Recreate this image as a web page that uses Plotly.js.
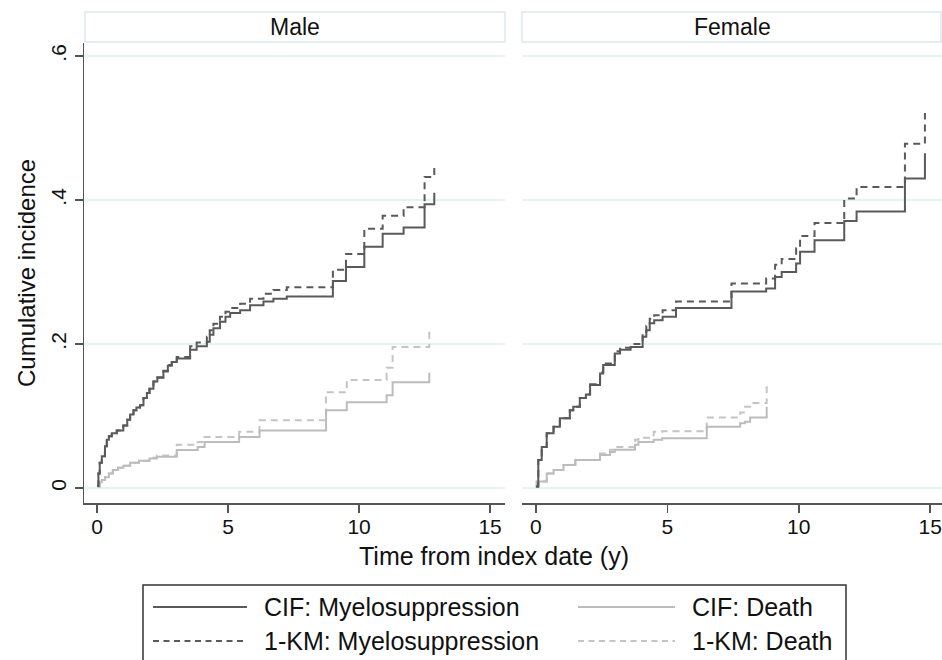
<!DOCTYPE html>
<html>
<head>
<meta charset="utf-8">
<script src="https://cdn.plot.ly/plotly-3.0.1.min.js"></script>
<style>html,body{margin:0;padding:0;background:#fff;}#chart{width:942px;height:660px;}</style>
</head>
<body>
<div id="chart"></div>
<script>
// ---------- DATA ----------
var panels = ["Male", "Female"];
var seriesNames = ["CIF: Myelosuppression", "1-KM: Myelosuppression", "CIF: Death", "1-KM: Death"];
var yTickVals = [0, 0.2, 0.4, 0.6];
var yTickText = ["0", ".2", ".4", ".6"];
var xTickVals = [0, 5, 10, 15];

// Male, CIF myelosuppression
var maleCifMyeloT = [0, 0.05, 0.1, 0.18, 0.3, 0.37, 0.45, 0.56, 0.75, 1.0, 1.15, 1.26, 1.39, 1.5, 1.64, 1.77, 1.9, 2.0, 2.15, 2.3, 2.53, 2.7, 2.85, 3.04, 3.55, 3.8, 4.19, 4.3, 4.44, 4.69, 4.9, 5.08, 5.46, 5.84, 6.35, 6.73, 7.24, 9.0, 9.5, 10.2, 10.9, 11.7, 12.5, 12.87];
var maleCifMyeloY = [0.003, 0.02, 0.035, 0.044, 0.058, 0.067, 0.072, 0.076, 0.08, 0.087, 0.095, 0.102, 0.108, 0.112, 0.115, 0.125, 0.132, 0.138, 0.148, 0.153, 0.162, 0.17, 0.175, 0.18, 0.192, 0.197, 0.203, 0.213, 0.222, 0.231, 0.238, 0.243, 0.247, 0.254, 0.259, 0.263, 0.266, 0.2875, 0.307, 0.335, 0.353, 0.362, 0.394, 0.41];
// Male, 1-KM myelosuppression
var maleKmMyeloT = [0, 0.05, 0.1, 0.18, 0.3, 0.37, 0.45, 0.56, 0.75, 1.0, 1.15, 1.26, 1.39, 1.5, 1.64, 1.77, 1.9, 2.0, 2.15, 2.3, 2.53, 2.7, 2.85, 3.04, 3.55, 3.8, 4.19, 4.3, 4.44, 4.69, 4.9, 5.08, 5.46, 5.84, 6.35, 6.73, 7.24, 9.0, 9.5, 10.2, 10.9, 11.7, 12.5, 12.87];
var maleKmMyeloY = [0.003, 0.02, 0.035, 0.044, 0.058, 0.067, 0.072, 0.076, 0.08, 0.087, 0.095, 0.102, 0.108, 0.112, 0.115, 0.125, 0.132, 0.138, 0.148, 0.154, 0.163, 0.171, 0.177, 0.182, 0.197, 0.202, 0.21, 0.219, 0.228, 0.238, 0.245, 0.25, 0.256, 0.263, 0.27, 0.275, 0.279, 0.303, 0.325, 0.36, 0.378, 0.39, 0.432, 0.451];
// Male, CIF death
var maleCifDeathT = [0, 0.1, 0.18, 0.3, 0.45, 0.6, 0.8, 1.0, 1.26, 1.6, 2.0, 2.28, 3.04, 3.84, 4.1, 5.42, 6.2, 8.74, 9.53, 11.05, 11.28, 12.68];
var maleCifDeathY = [0.002, 0.008, 0.011, 0.015, 0.02, 0.025, 0.028, 0.031, 0.035, 0.038, 0.041, 0.0435, 0.0528, 0.057, 0.064, 0.071, 0.08, 0.108, 0.119, 0.129, 0.147, 0.16];
// Male, 1-KM death
var maleKmDeathT = [0, 0.1, 0.18, 0.3, 0.45, 0.6, 0.8, 1.0, 1.26, 1.6, 2.0, 2.28, 3.04, 3.84, 4.1, 5.42, 6.2, 8.74, 9.53, 11.05, 11.28, 12.68];
var maleKmDeathY = [0.002, 0.008, 0.011, 0.015, 0.02, 0.025, 0.028, 0.031, 0.035, 0.038, 0.042, 0.045, 0.06, 0.064, 0.071, 0.078, 0.094, 0.133, 0.15, 0.167, 0.196, 0.217];

// Female, CIF myelosuppression
var femCifMyeloT = [0, 0.09, 0.22, 0.41, 0.67, 0.91, 1.29, 1.42, 1.67, 1.9, 2.06, 2.44, 2.56, 3.0, 3.2, 3.6, 4.06, 4.2, 4.33, 4.5, 4.82, 5.33, 7.44, 8.76, 9.1, 9.35, 9.9, 10.05, 10.6, 11.73, 12.2, 14.04, 14.8];
var femCifMyeloY = [0.002, 0.039, 0.057, 0.076, 0.085, 0.097, 0.108, 0.113, 0.125, 0.13, 0.143, 0.159, 0.171, 0.187, 0.192, 0.196, 0.21, 0.219, 0.229, 0.233, 0.238, 0.25, 0.273, 0.277, 0.293, 0.3, 0.312, 0.328, 0.344, 0.371, 0.384, 0.43, 0.465];
// Female, 1-KM myelosuppression
var femKmMyeloT = [0, 0.09, 0.22, 0.41, 0.67, 0.91, 1.29, 1.42, 1.67, 1.9, 2.06, 2.44, 2.56, 3.0, 3.2, 3.6, 4.06, 4.2, 4.33, 4.5, 4.82, 5.33, 7.44, 8.76, 9.1, 9.35, 9.9, 10.05, 10.6, 11.73, 12.2, 14.04, 14.8];
var femKmMyeloY = [0.002, 0.039, 0.057, 0.076, 0.085, 0.097, 0.108, 0.113, 0.125, 0.13, 0.144, 0.161, 0.173, 0.19, 0.195, 0.2, 0.215, 0.225, 0.235, 0.24, 0.247, 0.259, 0.284, 0.291, 0.31, 0.318, 0.333, 0.35, 0.368, 0.402, 0.418, 0.478, 0.521];
// Female, CIF death
var femCifDeathT = [0, 0.03, 0.41, 0.67, 1.05, 1.5, 2.44, 2.82, 3.0, 3.77, 3.9, 4.48, 4.8, 6.5, 7.77, 7.96, 8.15, 8.78];
var femCifDeathY = [0.002, 0.009, 0.02, 0.025, 0.032, 0.039, 0.046, 0.05, 0.053, 0.06, 0.064, 0.067, 0.069, 0.085, 0.09, 0.092, 0.098, 0.113];
// Female, 1-KM death
var femKmDeathT = [0, 0.03, 0.41, 0.67, 1.05, 1.5, 2.44, 2.82, 3.0, 3.77, 3.9, 4.48, 4.8, 6.5, 7.77, 7.96, 8.15, 8.78];
var femKmDeathY = [0.002, 0.009, 0.02, 0.025, 0.032, 0.039, 0.048, 0.053, 0.057, 0.067, 0.07, 0.078, 0.079, 0.098, 0.105, 0.113, 0.118, 0.142];

// ---------- STYLE ----------
var FONT = "Liberation Sans, Arial, sans-serif";
var TICKFONT = "Liberation Sans Narrow, Arial Narrow, Liberation Sans, sans-serif";
var W = 942, H = 660;
function px(x) { return x / W; }
function py(y) { return 1 - y / H; }

var styles = [
  {color: "#5a5a5a", width: 2, dash: "solid"},
  {color: "#5a5a5a", width: 2, dash: "7px,5px"},
  {color: "#bcbcbc", width: 2, dash: "solid"},
  {color: "#c4c4c4", width: 2, dash: "7px,5px"}
];

var panelData = [
  [[maleCifMyeloT, maleCifMyeloY], [maleKmMyeloT, maleKmMyeloY], [maleCifDeathT, maleCifDeathY], [maleKmDeathT, maleKmDeathY]],
  [[femCifMyeloT, femCifMyeloY], [femKmMyeloT, femKmMyeloY], [femCifDeathT, femCifDeathY], [femKmDeathT, femKmDeathY]]
];

var traces = [];
var drawOrder = [3, 2, 1, 0];
for (var p = 0; p < 2; p++) {
  drawOrder.forEach(function (s) {
    traces.push({
      type: "scatter", mode: "lines",
      x: panelData[p][s][0], y: panelData[p][s][1],
      xaxis: p === 0 ? "x" : "x2", yaxis: p === 0 ? "y" : "y2",
      line: {shape: "hv", color: styles[s].color, width: styles[s].width, dash: styles[s].dash},
      name: seriesNames[s], showlegend: false, hoverinfo: "skip"
    });
  });
}

var yDomain = [py(503), py(43)];
var yRange = [-0.0208, 0.6181];
var gridColor = "#e9f1f3";

var baseX = {
  tickvals: xTickVals, ticktext: xTickVals.map(String),
  ticks: "outside", ticklen: 8, tickwidth: 1.5, tickcolor: "#555",
  showline: true, linecolor: "#555", linewidth: 2,
  showgrid: false, zeroline: false,
  tickfont: {family: TICKFONT, size: 21, color: "#111"},
  ticklabelstandoff: -4, fixedrange: true
};

var layout = {
  width: W, height: H,
  margin: {l: 0, r: 0, t: 0, b: 0},
  paper_bgcolor: "#fff", plot_bgcolor: "#fff",
  showlegend: false,
  xaxis: Object.assign({}, baseX, {domain: [px(84), px(505)], range: [-0.5, 15.57], anchor: "y"}),
  xaxis2: Object.assign({}, baseX, {domain: [px(522), px(942)], range: [-0.53, 15.45], anchor: "y2"}),
  yaxis: {
    domain: yDomain, range: yRange, anchor: "x",
    tickvals: yTickVals, ticktext: yTickText, tickangle: -90,
    ticks: "outside", ticklen: 8, tickwidth: 1.5, tickcolor: "#555",
    showline: true, linecolor: "#555", linewidth: 1.5,
    showgrid: true, gridcolor: gridColor, gridwidth: 1.5, zeroline: false,
    tickfont: {family: TICKFONT, size: 21, color: "#111"},
    ticklabelstandoff: 0, fixedrange: true
  },
  yaxis2: {
    domain: yDomain, range: yRange, anchor: "x2",
    tickvals: yTickVals, showticklabels: false, ticks: "",
    showline: false, showgrid: true, gridcolor: gridColor, gridwidth: 1.5, zeroline: false,
    fixedrange: true
  },
  shapes: [
    // strips
    {type: "rect", xref: "paper", yref: "paper", x0: px(85), x1: px(505), y0: py(42), y1: py(12),
     line: {color: "#dbe7ed", width: 1.5}, fillcolor: "#fff", layer: "below"},
    {type: "rect", xref: "paper", yref: "paper", x0: px(522), x1: px(941), y0: py(42), y1: py(12),
     line: {color: "#dbe7ed", width: 1.5}, fillcolor: "#fff", layer: "below"},
    // legend box
    {type: "rect", xref: "paper", yref: "paper", x0: px(143), x1: px(846), y0: py(585), y1: py(662),
     line: {color: "#333", width: 1.5}, fillcolor: "rgba(0,0,0,0)"},
    // legend samples
    {type: "line", xref: "paper", yref: "paper", x0: px(153), x1: px(247), y0: py(607), y1: py(607),
     line: {color: styles[0].color, width: styles[0].width, dash: styles[0].dash}},
    {type: "line", xref: "paper", yref: "paper", x0: px(578), x1: px(675), y0: py(607), y1: py(607),
     line: {color: styles[2].color, width: styles[2].width, dash: styles[2].dash}},
    {type: "line", xref: "paper", yref: "paper", x0: px(153), x1: px(247), y0: py(641), y1: py(641),
     line: {color: styles[1].color, width: styles[1].width, dash: "6px,4.5px"}},
    {type: "line", xref: "paper", yref: "paper", x0: px(578), x1: px(675), y0: py(641), y1: py(641),
     line: {color: styles[3].color, width: styles[3].width, dash: "6px,4.5px"}}
  ],
  annotations: [
    {text: panels[0], xref: "paper", yref: "paper", x: px(295), y: py(27), showarrow: false,
     xanchor: "center", yanchor: "middle", font: {family: FONT, size: 23, color: "#111"}},
    {text: panels[1], xref: "paper", yref: "paper", x: px(732), y: py(27), showarrow: false,
     xanchor: "center", yanchor: "middle", font: {family: FONT, size: 23, color: "#111"}},
    {text: "Cumulative incidence", xref: "paper", yref: "paper", x: px(27), y: py(273), showarrow: false,
     textangle: -90, xanchor: "center", yanchor: "middle", font: {family: FONT, size: 24, color: "#111"}},
    {text: "Time from index date (y)", xref: "paper", yref: "paper", x: px(494), y: py(556), showarrow: false,
     xanchor: "center", yanchor: "middle", font: {family: FONT, size: 25, color: "#111"}},
    {text: seriesNames[0], xref: "paper", yref: "paper", x: px(262), y: py(607), showarrow: false,
     xanchor: "left", yanchor: "middle", font: {family: FONT, size: 25, color: "#111"}},
    {text: seriesNames[2], xref: "paper", yref: "paper", x: px(690), y: py(607), showarrow: false,
     xanchor: "left", yanchor: "middle", font: {family: FONT, size: 25, color: "#111"}},
    {text: seriesNames[1], xref: "paper", yref: "paper", x: px(262), y: py(641), showarrow: false,
     xanchor: "left", yanchor: "middle", font: {family: FONT, size: 25, color: "#111"}},
    {text: seriesNames[3], xref: "paper", yref: "paper", x: px(690), y: py(641), showarrow: false,
     xanchor: "left", yanchor: "middle", font: {family: FONT, size: 25, color: "#111"}}
  ]
};

Plotly.newPlot("chart", traces, layout, {staticPlot: true, displayModeBar: false});
</script>
</body>
</html>
